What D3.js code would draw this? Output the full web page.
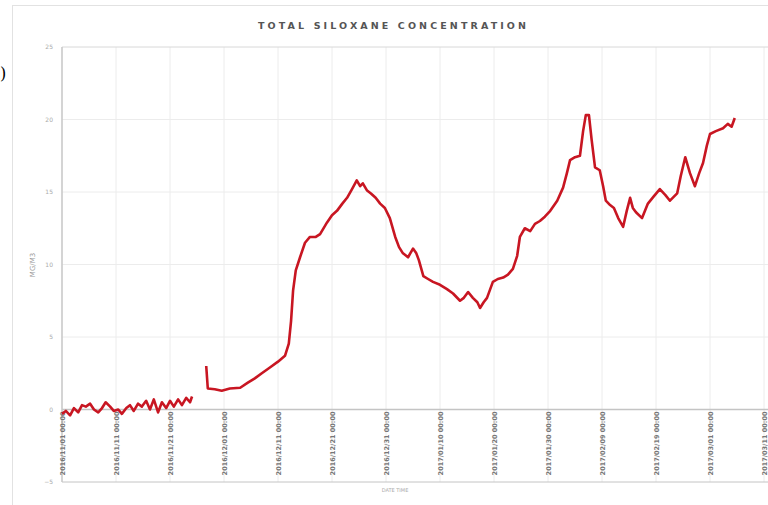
<!DOCTYPE html>
<html>
<head>
<meta charset="utf-8">
<script src="https://cdn.jsdelivr.net/npm/d3@7"></script>
<style>
  body { margin: 0; background: #fff; }
  svg { display: block; }
</style>
</head>
<body>
<svg id="chart" width="768" height="505"></svg>
<script>
// days since start date, and mg/m3 readings
const startDate = new Date(2016, 10, 1);
const tickDays = [0, 10, 20, 30, 40, 50, 60, 70, 80, 90, 100, 110, 120, 130];
const yTicks = [-5, 0, 5, 10, 15, 20, 25];

const days1 = [0, 0.7, 1.5, 2.2, 3.0, 3.7, 4.4, 5.2, 5.9, 6.7, 7.4, 8.1, 8.9, 9.6, 10.4, 11.1, 11.9,
  12.6, 13.3, 14.1, 14.8, 15.6, 16.3, 17.0, 17.8, 18.5, 19.3, 20.0, 20.7, 21.5, 22.2, 23.0, 23.7, 24.1];
const values1 = [-0.3, -0.1, -0.4, 0.1, -0.2, 0.3, 0.2, 0.4, 0.0, -0.2, 0.1, 0.5, 0.2, -0.1, 0.0, -0.3, 0.1,
  0.3, -0.1, 0.4, 0.2, 0.6, 0.0, 0.7, -0.2, 0.5, 0.1, 0.6, 0.2, 0.7, 0.3, 0.8, 0.5, 0.9];

const days2 = [26.7, 27.0, 28.3, 29.6, 31.1, 33.0, 34.4, 35.7, 37.0, 38.5, 40.0, 41.3, 42.0, 42.4, 42.8,
  43.3, 44.1, 45.0, 45.9, 47.0, 47.8, 49.1, 50.0, 50.9, 51.9, 52.8, 53.7, 54.6, 55.2, 55.7, 56.5, 57.2,
  58.1, 58.9, 59.8, 60.7, 61.7, 62.4, 63.1, 64.1, 65.0, 65.6, 66.1, 66.9, 67.8, 68.7, 70.0, 71.3, 72.4,
  73.7, 74.4, 75.2, 76.1, 76.9, 77.4, 78.1, 78.7, 79.8, 80.7, 81.7, 82.6, 83.5, 84.3, 84.8, 85.7, 86.7,
  87.6, 88.5, 89.4, 90.4, 91.7, 92.8, 93.5, 94.1, 95.0, 95.9, 96.5, 97.0, 97.6, 98.1, 98.7, 99.6, 100.2,
  100.7, 101.5, 102.2, 103.0, 103.9, 104.6, 105.2, 105.7, 106.3, 107.4, 108.5, 109.6, 110.7, 111.7,
  112.6, 113.9, 114.6, 115.4, 116.3, 117.2, 118.0, 118.7, 119.4, 120.0, 121.1, 122.4, 123.3, 124.0, 124.6];
const values2 = [3.0, 1.45, 1.4, 1.3, 1.45, 1.5, 1.85, 2.15, 2.5, 2.9, 3.3, 3.7, 4.55, 6.1, 8.2,
  9.6, 10.5, 11.5, 11.9, 11.9, 12.1, 12.9, 13.4, 13.7, 14.2, 14.6, 15.2, 15.8, 15.4, 15.6, 15.1, 14.9,
  14.6, 14.2, 13.9, 13.2, 11.9, 11.2, 10.8, 10.5, 11.1, 10.8, 10.3, 9.2, 9.0, 8.8, 8.6, 8.3, 8.0,
  7.5, 7.7, 8.1, 7.7, 7.4, 7.0, 7.4, 7.7, 8.8, 9.0, 9.1, 9.3, 9.7, 10.6, 11.9, 12.5, 12.3,
  12.8, 13.0, 13.3, 13.7, 14.4, 15.3, 16.3, 17.2, 17.4, 17.5, 19.2, 20.3, 20.3, 18.6, 16.7, 16.5, 15.4,
  14.4, 14.1, 13.9, 13.2, 12.6, 13.7, 14.6, 13.9, 13.6, 13.2, 14.2, 14.7, 15.2, 14.8,
  14.4, 14.9, 16.1, 17.4, 16.3, 15.4, 16.3, 17.0, 18.2, 19.0, 19.2, 19.4, 19.7, 19.5, 20.1];

const toDate = d => d3.timeHour.offset(startDate, Math.round(d * 24));

const svg = d3.select("#chart");
const plotLeft = 62, plotRight = 764, plotTop = 47, plotBottom = 482;

const x = d3.scaleTime()
  .domain([toDate(0), toDate(130)])
  .range([plotLeft, plotRight]);
const y = d3.scaleLinear()
  .domain([-5, 25])
  .range([plotBottom, plotTop]);

// outer frame
svg.append("rect")
  .attr("x", 12.5).attr("y", 5.5)
  .attr("width", 760).attr("height", 504)
  .attr("fill", "none").attr("stroke", "#e2e2e2");

// edge of a neighbouring panel label
svg.append("text")
  .attr("x", 0).attr("y", 79)
  .style("font-family", "DejaVu Serif")
  .style("font-size", "16px")
  .text(")");

svg.append("text")
  .attr("x", 392).attr("y", 29)
  .attr("text-anchor", "middle")
  .attr("textLength", 268)
  .attr("lengthAdjust", "spacing")
  .style("font-family", "DejaVu Sans")
  .style("font-size", "9.5px")
  .style("font-weight", "bold")
  .attr("fill", "#555")
  .text("TOTAL SILOXANE CONCENTRATION");

// grid
svg.append("g")
  .selectAll("line")
  .data(tickDays)
  .join("line")
  .attr("x1", d => x(toDate(d))).attr("x2", d => x(toDate(d)))
  .attr("y1", plotTop).attr("y2", plotBottom)
  .attr("stroke", "#ececec");

svg.append("g")
  .selectAll("line")
  .data(yTicks)
  .join("line")
  .attr("x1", plotLeft).attr("x2", plotRight + 4)
  .attr("y1", d => y(d)).attr("y2", d => y(d))
  .attr("stroke", d => d === 0 || d === -5 ? "#c4c4c4" : (d === 25 ? "#d8d8d8" : "#ececec"))
  .attr("stroke-width", d => d === 0 ? 1.5 : 1);

svg.append("line")
  .attr("x1", plotLeft).attr("x2", plotLeft)
  .attr("y1", plotTop).attr("y2", plotBottom)
  .attr("stroke", "#c8c8c8").attr("stroke-width", 1.5);

// y axis
const yAxis = d3.axisLeft(y).tickValues(yTicks).tickSize(0).tickPadding(9);
const yg = svg.append("g").attr("transform", `translate(${plotLeft},0)`).call(yAxis);
yg.select(".domain").remove();
yg.selectAll("text")
  .style("font-family", "DejaVu Sans")
  .style("font-size", "6px")
  .attr("fill", "#aaa");

svg.append("text")
  .attr("transform", "translate(35,265) rotate(-90)")
  .attr("text-anchor", "middle")
  .style("font-family", "DejaVu Sans")
  .style("font-size", "7px")
  .attr("fill", "#999")
  .text("MG/M3");

// x axis with vertical date labels
const fmt = d3.timeFormat("%Y/%m/%d %H:%M");
const xAxis = d3.axisBottom(x)
  .tickValues(tickDays.map(toDate))
  .tickFormat(fmt)
  .tickSize(0);
const xg = svg.append("g").attr("transform", `translate(0,${y(0)})`).call(xAxis);
xg.select(".domain").remove();
xg.selectAll("text")
  .attr("transform", "rotate(-90)")
  .attr("text-anchor", "end")
  .attr("x", -2).attr("y", 0).attr("dy", "0.35em")
  .style("font-family", "DejaVu Sans")
  .style("font-size", "6.5px")
  .style("font-weight", "bold")
  .attr("fill", "#777");

svg.append("text")
  .attr("x", 395).attr("y", 492)
  .attr("text-anchor", "middle")
  .style("font-family", "DejaVu Sans")
  .style("font-size", "5px")
  .attr("fill", "#aaa")
  .text("DATE TIME");

// series
const line = d3.line()
  .x(d => x(toDate(d[0])))
  .y(d => y(d[1]));

[[days1, values1], [days2, values2]].forEach(([ds, vs]) => {
  svg.append("path")
    .datum(d3.zip(ds, vs))
    .attr("d", line)
    .attr("fill", "none")
    .attr("stroke", "#c81622")
    .attr("stroke-width", 2.6)
    .attr("stroke-linejoin", "round");
});
</script>
</body>
</html>
